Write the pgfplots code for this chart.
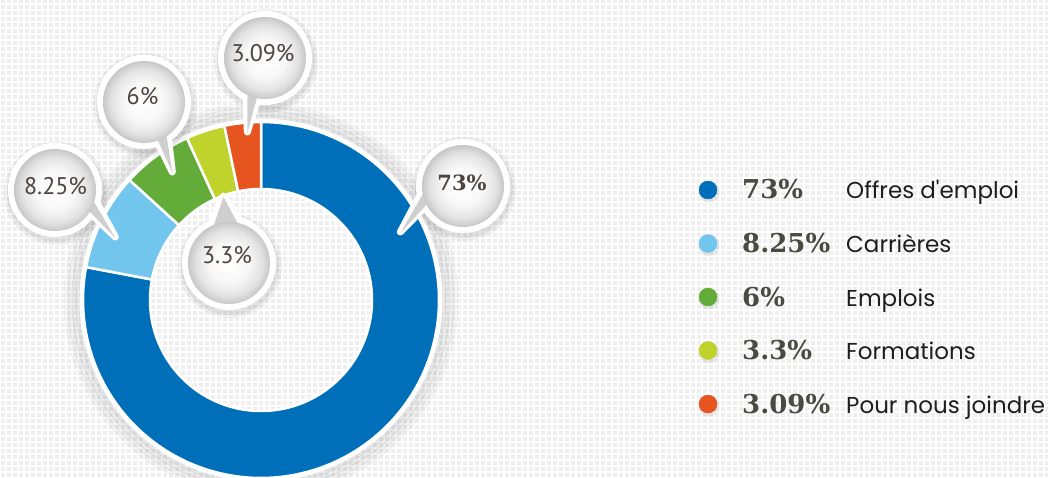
\documentclass[border=0pt]{standalone}
\usepackage{fontspec}
\usepackage{pgfplots}
\pgfplotsset{compat=1.18}
\setmainfont{PT Sans}
\newfontfamily\bubfont{PT Sans}
\newfontfamily\pctfont{DejaVu Serif}
\newfontfamily\labfont{Poppins}
\definecolor{cBlue}{RGB}{0,111,186}
\definecolor{cLBlue}{RGB}{114,198,238}
\definecolor{cGreen}{RGB}{100,172,57}
\definecolor{cYel}{RGB}{192,211,45}
\definecolor{cOrg}{RGB}{230,84,32}
\definecolor{bgc}{RGB}{239,239,239}
\definecolor{bubtxt}{RGB}{78,68,64}
\definecolor{pcttxt}{RGB}{74,74,66}
\definecolor{labtxt}{RGB}{30,30,30}
\pgfdeclareradialshading{bubshade}{\pgfpoint{0bp}{0bp}}{color(0bp)=(white); color(12bp)=(black!3); color(20bp)=(black!11); color(25bp)=(black!22); color(50bp)=(black!22)}
% values (percent)
\def\vA{73}\def\vB{8.25}\def\vC{6}\def\vD{3.3}\def\vE{3.09}
\pgfmathsetmacro\tot{\vA+\vB+\vC+\vD+\vE}
\pgfmathsetmacro\aA{90}
\pgfmathsetmacro\aB{\aA-3.6*(100*\vA/\tot)}
\pgfmathsetmacro\aC{\aB-3.6*(100*\vB/\tot)}
\pgfmathsetmacro\aD{\aC-3.6*(100*\vC/\tot)}
\pgfmathsetmacro\aE{\aD-3.6*(100*\vD/\tot)}
\pgfmathsetmacro\aF{\aE-3.6*(100*\vE/\tot)}
\newcommand\bubble[8]{%
  % #1,#2 centre; #3,#4 tip; #5,#6 text base; #7 font; #8 text
  \pgfmathsetmacro\bang{atan2(#4-#2,#3-#1)}%
  \fill[black,opacity=0.05] (#1+1,#2-3) circle[radius=52pt];
  \fill[black,opacity=0.06] (#1+1,#2-3) circle[radius=49pt];
  \fill[white] (#1,#2) circle[radius=47pt];
  \filldraw[white,line width=7pt,line join=round]
     ([shift={(\bang+30:38pt)}]#1,#2) -- ([shift={(\bang+180:4pt)}]#3,#4) -- ([shift={(\bang-30:38pt)}]#1,#2) -- cycle;
  \fill[black!19] ([shift={(\bang+24:36pt)}]#1,#2) -- ([shift={(\bang+180:5pt)}]#3,#4) -- ([shift={(\bang-24:36pt)}]#1,#2) -- cycle;
  \shade[shading=bubshade] (#1,#2) circle[radius=41pt];
  \node[anchor=base,inner sep=0pt,text=bubtxt,font=#7] at (#5,#6) {#8};
}
\begin{document}
\begin{tikzpicture}
\begin{axis}[
  width=1048pt, height=477pt, scale only axis,
  xmin=0, xmax=1048, ymin=0, ymax=477,
  hide axis,
  clip=true,
  declare function={
    rr(\t)=(\t<250)*178+(\t>250)*111;
    th(\t,\s,\e)=(\t<250)*(\s+(\e-\s)*\t/200)+(\t>250)*(\e-(\e-\s)*(\t-300)/200);
  },
]
% background with a light dotted mesh
\fill[bgc] (0,0) rectangle (1048,477);
\draw[white,line width=2.2pt,step=6pt] (0,0) grid (1048,477);
% soft shadow around the donut
\draw[black,opacity=0.035,line width=5pt] (261,177) circle[radius=195pt];
\draw[black,opacity=0.05,line width=5pt] (261,177) circle[radius=191pt];
\draw[black,opacity=0.07,line width=5pt] (261,177) circle[radius=187pt];
\draw[black,opacity=0.09,line width=4pt] (261,177) circle[radius=183pt];
\draw[white,line width=3pt] (261,177) circle[radius=180pt];
% slices
\addplot[fill=cBlue, draw=white, line width=2.5pt, samples at={0,1,...,200,300,301,...,500}, variable=\t]
  ({261+rr(\t)*cos(th(\t,\aA,\aB))},{177+rr(\t)*sin(th(\t,\aA,\aB))}) -- cycle;
\addplot[fill=cLBlue, draw=white, line width=2.5pt, samples at={0,1,...,200,300,301,...,500}, variable=\t]
  ({261+rr(\t)*cos(th(\t,\aB,\aC))},{177+rr(\t)*sin(th(\t,\aB,\aC))}) -- cycle;
\addplot[fill=cGreen, draw=white, line width=2.5pt, samples at={0,1,...,200,300,301,...,500}, variable=\t]
  ({261+rr(\t)*cos(th(\t,\aC,\aD))},{177+rr(\t)*sin(th(\t,\aC,\aD))}) -- cycle;
\addplot[fill=cYel, draw=white, line width=2.5pt, samples at={0,1,...,200,300,301,...,500}, variable=\t]
  ({261+rr(\t)*cos(th(\t,\aD,\aE))},{177+rr(\t)*sin(th(\t,\aD,\aE))}) -- cycle;
\addplot[fill=cOrg, draw=white, line width=2.5pt, samples at={0,1,...,200,300,301,...,500}, variable=\t]
  ({261+rr(\t)*cos(th(\t,\aE,\aF))},{177+rr(\t)*sin(th(\t,\aE,\aF))}) -- cycle;
% callouts
\bubble{463}{291}{400}{249}{462}{286}{\pctfont\bfseries\fontsize{21}{21}\selectfont}{73\%}
\bubble{55}{287}{115}{244}{55.5}{282}{\bubfont\fontsize{24}{24}\selectfont}{8.25\%}
\bubble{144}{375}{172}{309}{142.5}{372}{\bubfont\fontsize{24}{24}\selectfont}{6\%}
\bubble{265}{419}{247}{349}{263}{415}{\bubfont\fontsize{24}{24}\selectfont}{3.09\%}
\bubble{229}{214}{223}{285}{227}{214}{\bubfont\fontsize{24}{24}\selectfont}{3.3\%}
% legend markers
\fill[black,opacity=0.08] (709,285) circle[radius=10.5pt];
\fill[black,opacity=0.08] (709,231.5) circle[radius=10.5pt];
\fill[black,opacity=0.08] (709,178) circle[radius=10.5pt];
\fill[black,opacity=0.08] (709,124.5) circle[radius=10.5pt];
\fill[black,opacity=0.08] (709,71) circle[radius=10.5pt];
\addplot[only marks, mark=*, mark size=9pt, color=cBlue] coordinates {(708,287)};
\addplot[only marks, mark=*, mark size=9pt, color=cLBlue] coordinates {(708,233.5)};
\addplot[only marks, mark=*, mark size=9pt, color=cGreen] coordinates {(708,180)};
\addplot[only marks, mark=*, mark size=9pt, color=cYel] coordinates {(708,126.5)};
\addplot[only marks, mark=*, mark size=9pt, color=cOrg] coordinates {(708,73)};
% legend text
\begin{scope}[every node/.style={anchor=base west,inner sep=0pt}]
\node[text=pcttxt,font=\pctfont\bfseries\fontsize{26}{26}\selectfont] at (742,278) {73\%};
\node[text=pcttxt,font=\pctfont\bfseries\fontsize{26}{26}\selectfont] at (742,224.5) {8.25\%};
\node[text=pcttxt,font=\pctfont\bfseries\fontsize{26}{26}\selectfont] at (742,171) {6\%};
\node[text=pcttxt,font=\pctfont\bfseries\fontsize{26}{26}\selectfont] at (742,117.5) {3.3\%};
\node[text=pcttxt,font=\pctfont\bfseries\fontsize{26}{26}\selectfont] at (742,64) {3.09\%};
\node[text=labtxt,font=\labfont\fontsize{23}{23}\selectfont] at (846,278) {Offres d'emploi};
\node[text=labtxt,font=\labfont\fontsize{23}{23}\selectfont] at (846,224.5) {Carrières};
\node[text=labtxt,font=\labfont\fontsize{23}{23}\selectfont] at (846,171) {Emplois};
\node[text=labtxt,font=\labfont\fontsize{23}{23}\selectfont] at (846,117.5) {Formations};
\node[text=labtxt,font=\labfont\fontsize{23}{23}\selectfont] at (846,64) {Pour nous joindre};
\end{scope}
\end{axis}
\pgfresetboundingbox
\path[use as bounding box] (current axis.south west) rectangle (current axis.north east);
\end{tikzpicture}
\end{document}
